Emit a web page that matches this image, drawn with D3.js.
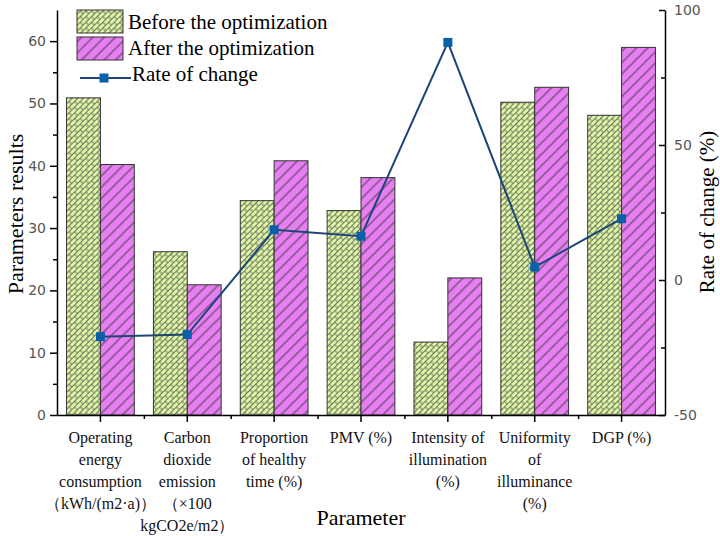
<!DOCTYPE html>
<html>
<head>
<meta charset="utf-8">
<script src="https://cdn.jsdelivr.net/npm/d3@7"></script>
<style>
  body { margin: 0; background: #fff; }
  svg { display: block; }
</style>
</head>
<body>
<svg id="chart"></svg>
<script>
const categories = ["op", "co2", "healthy", "pmv", "intensity", "uniformity", "dgp"];
const categoryLines = [
  ["Operating", "energy", "consumption", "（kWh/(m2·a)）"],
  ["Carbon", "dioxide", "emission", "（×100", "kgCO2e/m2）"],
  ["Proportion", "of healthy", "time (%)"],
  ["PMV (%)"],
  ["Intensity of", "illumination", "(%)"],
  ["Uniformity", "of", "illuminance", "(%)"],
  ["DGP (%)"]
];
const beforeValues = [50.9, 26.2, 34.4, 32.8, 11.7, 50.2, 48.1];
const afterValues = [40.2, 20.9, 40.8, 38.1, 22.0, 52.6, 59.0];
const rateValues = [-21.0, -20.2, 18.6, 16.2, 88.0, 4.8, 22.7];
const leftTicks = [0, 10, 20, 30, 40, 50, 60];
const rightTicks = [-50, 0, 50, 100];

const width = 720;
const height = 536;
const plotLeft = 57, plotRight = 665, plotTop = 10, plotBottom = 415;

const svg = d3.select("#chart").attr("width", width).attr("height", height);

// patterns
const defs = svg.append("defs");
const brick = defs.append("pattern")
  .attr("id", "brick")
  .attr("patternUnits", "userSpaceOnUse")
  .attr("width", 8).attr("height", 8)
  .attr("patternTransform", "rotate(-45)");
brick.append("rect").attr("width", 8).attr("height", 8).attr("fill", "#dcf5a2");
brick.append("path")
  .attr("d", "M0,0.5H8M0,4.5H8M1,0.5V4.5M5,4.5V8.5")
  .attr("stroke", "#555").attr("stroke-width", 0.8).attr("fill", "none");

const hatch = defs.append("pattern")
  .attr("id", "hatch")
  .attr("patternUnits", "userSpaceOnUse")
  .attr("width", 8).attr("height", 8)
  .attr("patternTransform", "rotate(-45)");
hatch.append("rect").attr("width", 8).attr("height", 8).attr("fill", "#e77ff3");
hatch.append("path").attr("d", "M0,4H8")
  .attr("stroke", "#333").attr("stroke-width", 0.9);

// scales
const x = d3.scaleBand().domain(categories).range([plotLeft, plotRight]).padding(0);
const yLeft = d3.scaleLinear().domain([0, 65]).range([plotBottom, plotTop]);
const yRight = d3.scaleLinear().domain([-50, 100]).range([plotBottom, plotTop]);
const barW = x.bandwidth() * 0.39;

// bars
const groups = svg.append("g").selectAll("g")
  .data(categories)
  .enter()
  .append("g");

groups.append("rect")
  .attr("x", (d) => x(d) + x.bandwidth() / 2 - barW)
  .attr("y", (d, i) => yLeft(beforeValues[i]))
  .attr("width", barW)
  .attr("height", (d, i) => plotBottom - yLeft(beforeValues[i]))
  .attr("fill", "url(#brick)")
  .attr("stroke", "#333").attr("stroke-width", 1);

groups.append("rect")
  .attr("x", (d) => x(d) + x.bandwidth() / 2)
  .attr("y", (d, i) => yLeft(afterValues[i]))
  .attr("width", barW)
  .attr("height", (d, i) => plotBottom - yLeft(afterValues[i]))
  .attr("fill", "url(#hatch)")
  .attr("stroke", "#333").attr("stroke-width", 1);

// rate line
const line = d3.line()
  .x((d, i) => x(categories[i]) + x.bandwidth() / 2)
  .y((d) => yRight(d));

svg.append("path")
  .datum(rateValues)
  .attr("d", line)
  .attr("fill", "none")
  .attr("stroke", "#1d4677")
  .attr("stroke-width", 2);

svg.append("g").selectAll("rect")
  .data(rateValues)
  .enter()
  .append("rect")
  .attr("x", (d, i) => x(categories[i]) + x.bandwidth() / 2 - 4.5)
  .attr("y", (d) => yRight(d) - 4.5)
  .attr("width", 9).attr("height", 9)
  .attr("fill", "#0a60a8");

// axes
const tickFont = "'DejaVu Sans', sans-serif";

svg.append("g")
  .attr("transform", "translate(" + plotLeft + ",0)")
  .call(d3.axisLeft(yLeft).tickValues(leftTicks).tickSize(7).tickPadding(4).tickSizeOuter(0));
svg.append("g")
  .attr("transform", "translate(" + plotLeft + ",0)")
  .call(d3.axisLeft(yLeft).tickValues(d3.range(5, 65, 10)).tickSize(4).tickFormat("").tickSizeOuter(0))
  .select(".domain").remove();

svg.append("g")
  .attr("transform", "translate(" + plotRight + ",0)")
  .call(d3.axisRight(yRight).tickValues(rightTicks).tickSize(-6).tickPadding(9)
    .tickFormat((d) => String(d)).tickSizeOuter(0));
svg.append("g")
  .attr("transform", "translate(" + plotRight + ",0)")
  .call(d3.axisRight(yRight).tickValues([-25, 25, 75]).tickSize(-4).tickFormat("").tickSizeOuter(0))
  .select(".domain").remove();

svg.append("g")
  .attr("transform", "translate(0," + plotBottom + ")")
  .call(d3.axisBottom(x).tickSize(7).tickFormat("").tickSizeOuter(0));
const minorScale = d3.scaleLinear().domain([0, categories.length]).range([plotLeft, plotRight]);
svg.append("g")
  .attr("transform", "translate(0," + plotBottom + ")")
  .call(d3.axisBottom(minorScale).tickValues(d3.range(1, categories.length)).tickSize(4).tickFormat(""))
  .select(".domain").remove();

svg.selectAll(".domain, .tick line").attr("stroke", "#000").attr("stroke-width", 1.5);
svg.selectAll(".tick text")
  .attr("font-family", tickFont)
  .attr("font-size", 14)
  .attr("fill", "#555");

// category labels
const labels = svg.append("g").selectAll("text")
  .data(categories)
  .enter()
  .append("text")
  .attr("text-anchor", "middle")
  .attr("font-family", "'Liberation Serif', serif")
  .attr("font-size", 16)
  .attr("fill", "#111");
labels.each(function (d, i) {
  d3.select(this).selectAll("tspan")
    .data(categoryLines[i])
    .enter()
    .append("tspan")
    .attr("x", x(d) + x.bandwidth() / 2)
    .attr("y", (t, j) => 443 + j * 22)
    .text((t) => t);
});

// axis titles
svg.append("text")
  .attr("x", 361).attr("y", 525)
  .attr("text-anchor", "middle")
  .attr("font-family", "'Liberation Serif', serif")
  .attr("font-size", 22)
  .text("Parameter");

svg.append("text")
  .attr("transform", "translate(23,214) rotate(-90)")
  .attr("text-anchor", "middle")
  .attr("font-family", "'Liberation Serif', serif")
  .attr("font-size", 22)
  .text("Parameters results");

svg.append("text")
  .attr("transform", "translate(714,212) rotate(-90)")
  .attr("text-anchor", "middle")
  .attr("font-family", "'Liberation Serif', serif")
  .attr("font-size", 21)
  .text("Rate of change (%)");

// legend
const legend = svg.append("g");
legend.append("rect").attr("x", 77).attr("y", 10).attr("width", 46).attr("height", 23)
  .attr("fill", "url(#brick)").attr("stroke", "#333");
legend.append("rect").attr("x", 77).attr("y", 37).attr("width", 46).attr("height", 23)
  .attr("fill", "url(#hatch)").attr("stroke", "#333");
legend.append("line").attr("x1", 80).attr("x2", 131).attr("y1", 78).attr("y2", 78)
  .attr("stroke", "#1d4677").attr("stroke-width", 2);
legend.append("rect").attr("x", 99.5).attr("y", 73.5).attr("width", 9).attr("height", 9)
  .attr("fill", "#0a60a8");
const legendText = ["Before the optimization", "After the optimization", "Rate of change"];
legend.selectAll("text.lg")
  .data(legendText)
  .enter()
  .append("text")
  .attr("class", "lg")
  .attr("x", (d, i) => (i === 2 ? 132 : 128))
  .attr("y", (d, i) => 29 + i * 26)
  .attr("font-family", "'Liberation Serif', serif")
  .attr("font-size", 21)
  .text((d) => d);
</script>
</body>
</html>
